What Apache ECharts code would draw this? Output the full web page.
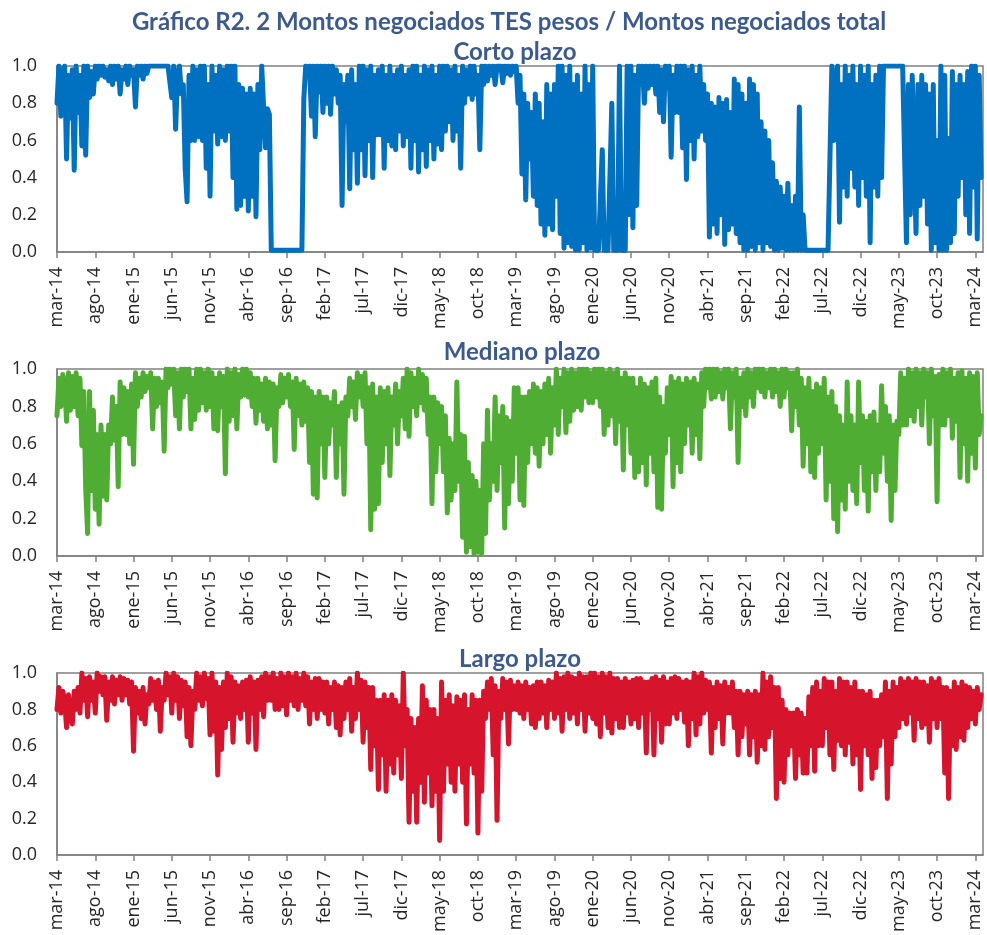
<!DOCTYPE html>
<html><head><meta charset="utf-8">
<script src="https://cdn.jsdelivr.net/npm/echarts@6/dist/echarts.min.js"></script>
<style>html,body{margin:0;padding:0;background:#fff}#c{width:987px;height:935px}</style>
</head><body><div id="c"></div><script>
const mainTitle = 'Gráfico R2. 2 Montos negociados TES pesos / Montos negociados total';
const panelTitles = ['Corto plazo', 'Mediano plazo', 'Largo plazo'];
const tickLabels = ['mar-14','ago-14','ene-15','jun-15','nov-15','abr-16','sep-16','feb-17','jul-17','dic-17','may-18','oct-18','mar-19','ago-19','ene-20','jun-20','nov-20','abr-21','sep-21','feb-22','jul-22','dic-22','may-23','oct-23','mar-24'];
// values in percent, 4 readings per month starting mar-14
const corto = [
80,100,73,97, 100,50,95,72, 98,44,100,75, 95,57,100,52, 100,83,97,85,
100,93,100,95, 100,94,98,92, 100,90,100,93, 100,85,98,93, 100,90,100,95,
98,78,100,95, 100,93,100,96, 100,100,100,100, 100,100,100,100, 100,100,100,100,
83,100,66,95, 100,85,90,45, 27,95,60,100, 60,98,62,100, 60,100,45,90,
30,100,65,95, 58,100,62,98, 60,100,65,100, 40,100,23,90, 25,88,30,85,
22,88,30,85, 19,90,55,100, 100,56,77,74, 1,1,1,1, 1,1,1,1,
1,1,1,1, 1,1,1,1, 1,82,100,95, 100,73,100,62, 100,86,100,75,
100,80,100,74, 100,85,98,80, 95,25,90,70, 95,34,98,55, 90,37,100,55,
100,41,98,60, 100,40,95,63, 98,63,100,45, 95,60,100,57, 95,55,98,65,
100,57,95,62, 98,45,100,60, 100,43,95,55, 100,46,98,60, 100,50,95,58,
100,55,100,65, 100,70,98,60, 100,65,95,45, 100,80,98,85, 100,82,100,85,
95,55,100,90, 100,92,100,95, 100,90,100,100, 100,91,100,96, 100,95,100,97,
100,80,95,42, 85,28,80,50, 75,30,85,25, 80,15,70,9, 90,15,85,12,
90,30,100,10, 100,2,95,5, 100,3,90,1, 95,1,85,5, 100,1,90,2,
100,1,1,1, 1,55,1,1, 1,1,80,1, 1,1,100,1, 1,1,100,20,
100,13,95,25, 100,90,100,80, 100,88,100,90, 100,85,100,75, 98,70,100,88,
100,51,95,75, 100,75,100,56, 100,39,98,60, 100,50,95,62, 100,65,90,60,
85,8,80,15, 78,10,83,20, 80,4,82,12, 75,15,93,10, 90,5,85,1,
80,1,93,3, 90,1,85,5, 70,1,65,5, 60,3,48,1, 38,1,35,2,
30,1,37,1, 25,1,30,1, 78,1,20,1, 1,1,1,1, 1,1,1,1,
1,1,1,1, 1,100,60,95, 100,16,90,35, 100,30,95,45, 100,35,90,25,
100,40,95,30, 100,5,90,35, 95,30,100,40, 100,100,100,100, 100,100,100,100,
100,100,100,100, 5,90,20,95, 95,10,90,25, 95,30,90,15, 85,1,90,5,
60,1,100,1, 95,1,61,5, 97,10,90,30, 95,40,90,20, 97,10,100,35,
100,7,95,40
];
const mediano = [
75,95,80,97, 92,72,98,78, 96,80,98,75, 95,59,88,36, 12,88,35,78,
25,65,17,70, 32,65,30,70, 60,85,62,80, 37,93,65,90, 65,88,60,92,
49,98,80,95, 85,98,88,96, 90,98,68,95, 80,95,82,93, 56,100,90,100,
92,100,75,98, 68,100,85,100, 88,100,68,95, 73,100,78,100, 82,98,78,100,
80,98,68,95, 67,98,80,96, 44,100,72,98, 75,100,68,97, 85,100,86,100,
85,98,80,95, 71,95,78,92, 72,95,68,93, 70,92,51,90, 80,97,82,95,
85,97,80,93, 57,95,75,92, 70,93,72,90, 50,88,33,85, 31,88,60,85,
42,85,60,82, 70,88,42,80, 60,82,33,85, 75,95,80,93, 73,98,85,96,
80,98,60,90, 14,92,25,85, 28,90,50,88, 60,90,43,85, 70,92,60,88,
75,95,68,100, 64,98,80,95, 75,100,82,97, 78,95,65,85, 28,85,45,82,
60,80,45,75, 23,63,30,60, 35,93,40,65, 10,64,2,50, 5,43,1,40,
2,35,1,60, 12,78,30,60, 40,85,35,75, 50,80,15,74, 28,72,40,90,
55,90,30,85, 27,85,50,88, 60,92,55,90, 48,88,60,92, 65,95,55,90,
70,100,65,95, 80,100,66,98, 72,100,78,98, 80,100,78,100, 85,100,82,98,
82,100,85,100, 80,100,65,98, 70,100,75,98, 60,100,72,95, 46,98,70,95,
55,95,42,90, 45,95,50,92, 38,90,55,93, 45,95,26,85, 25,80,55,90,
65,96,37,93, 50,95,45,92, 60,95,70,93, 55,95,65,92, 52,98,80,100,
90,100,84,100, 85,100,88,98, 84,100,90,100, 68,98,85,100, 50,95,80,98,
75,100,85,98, 80,100,90,100, 88,100,85,98, 90,100,85,100, 88,98,80,100,
85,100,90,98, 67,98,80,100, 70,95,48,90, 60,95,45,88, 42,92,55,90,
60,95,30,85, 40,88,20,80, 13,75,30,70, 25,93,40,75, 35,70,28,93,
50,75,35,72, 24,75,45,77, 35,70,45,91, 55,80,40,75, 19,70,35,72,
65,98,70,95, 70,100,75,98, 72,100,80,98, 70,100,85,98, 60,100,75,96,
29,97,70,100, 70,98,75,100, 63,95,72,98, 42,99,60,95, 40,98,55,96,
47,98,65,75
];
const largo = [
80,92,78,90, 85,70,88,75, 72,90,80,92, 78,100,85,97, 76,98,85,95,
78,100,90,98, 88,98,74,95, 85,98,83,96, 88,98,85,97, 88,96,83,95,
57,92,78,90, 75,92,72,88, 83,97,85,95, 80,96,68,92, 85,100,88,98,
78,100,85,98, 75,96,82,95, 65,92,60,90, 80,100,85,98, 82,100,86,97,
66,100,68,95, 44,92,58,95, 70,100,75,98, 62,95,78,93, 75,95,80,96,
62,98,78,95, 58,96,80,98, 76,100,85,98, 85,100,80,97, 80,100,82,98,
77,100,85,98, 82,100,80,97, 85,100,82,98, 72,95,80,97, 75,97,80,95,
78,95,72,92, 80,95,70,93, 66,92,75,95, 80,97,68,92, 75,100,80,96,
62,95,70,92, 47,92,60,85, 36,85,55,88, 35,85,50,88, 45,85,55,82,
42,100,60,80, 18,75,35,70, 18,75,40,93, 29,85,45,80, 27,80,35,75,
8,95,35,85, 50,88,40,82, 35,87,50,85, 40,88,17,80, 50,88,45,85,
12,85,35,90, 75,95,80,97, 55,93,19,90, 75,97,80,95, 61,96,80,93,
80,95,78,93, 75,95,80,92, 72,93,70,95, 75,95,78,93, 70,96,80,95,
75,100,78,97, 68,98,80,100, 75,98,78,97, 72,100,80,98, 68,98,78,100,
75,100,72,98, 65,100,78,98, 70,100,67,97, 75,97,70,95, 70,97,78,95,
72,96,75,97, 70,97,78,95, 56,95,80,97, 55,98,75,96, 62,98,72,95,
72,97,78,98, 75,97,80,95, 73,96,60,95, 75,100,66,98, 72,100,78,96,
80,95,56,92, 70,95,75,93, 61,95,78,92, 78,95,70,90, 55,90,65,88,
72,90,55,88, 65,90,51,88, 60,100,58,95, 65,98,70,92, 31,92,42,85,
40,80,55,78, 60,78,42,80, 55,78,45,75, 45,87,60,92, 46,95,60,90,
60,97,70,95, 55,95,47,90, 63,97,60,95, 55,95,62,92, 50,95,55,90,
36,90,60,88, 55,90,42,85, 48,85,60,88, 65,95,31,90, 50,95,65,92,
70,97,75,95, 72,97,78,95, 63,97,75,95, 70,95,72,93, 62,97,75,95,
70,97,75,92, 45,92,31,90, 60,95,58,92, 65,95,63,93, 70,92,75,90,
72,92,80,88
];
const seriesList = [corto, mediano, largo];
const colors = ['#0070c0', '#50ad33', '#d6142b'];
const PER_MONTH = 4;
const tickVals = tickLabels.map((_, i) => i * 5);
const tops = [66, 369, 673];
const heights = [186, 187, 186];
const titleTops = [35, 335, 642];
const titleLefts = [510, 517, 515];
const titleColor = '#3d5a8c';
const axisColor = '#808080';
const labelColor = '#262626';
const fontFam = '"Open Sans", "Noto Sans", sans-serif';
const titleFont = 'Lato, sans-serif';

const chart = echarts.init(document.getElementById('c'), null, {renderer: 'canvas'});
const option = {
  animation: false,
  backgroundColor: '#fff',
  title: [{
    text: mainTitle, left: 504, top: 5, textAlign: 'center',
    textStyle: {fontSize: 24, fontWeight: 'bold', color: titleColor, fontFamily: titleFont}
  }].concat(panelTitles.map((t, i) => ({
    text: t, left: titleLefts[i], top: titleTops[i], textAlign: 'center',
    textStyle: {fontSize: 24, fontWeight: 'bold', color: titleColor, fontFamily: titleFont}
  }))),
  grid: tops.map((t, i) => ({left: 57, width: 926, top: t, height: heights[i], show: true,
    borderColor: axisColor, borderWidth: 1.5, backgroundColor: 'transparent', containLabel: false})),
  xAxis: tops.map((t, i) => ({
    gridIndex: i, type: 'value', min: 0, max: 121, interval: 5,
    axisLine: {show: true, onZero: false, lineStyle: {color: axisColor, width: 1.5}},
    axisTick: {show: true, length: 6, customValues: tickVals, lineStyle: {color: axisColor, width: 1.5}},
    axisLabel: {customValues: tickVals, rotate: 90, margin: 15, fontSize: 18, color: labelColor, fontFamily: fontFam,
      formatter: v => tickLabels[Math.round(v / 5)] || ''},
    splitLine: {show: false}
  })),
  yAxis: tops.map((t, i) => ({
    gridIndex: i, type: 'value', min: 0, max: 1, interval: 0.2,
    axisLine: {show: true, lineStyle: {color: axisColor, width: 1.5}},
    axisTick: {show: false},
    axisLabel: {margin: 20, fontSize: 18, color: labelColor, fontFamily: fontFam, formatter: v => v.toFixed(1)},
    splitLine: {show: false}
  })),
  series: seriesList.map((arr, i) => ({
    type: 'line', xAxisIndex: i, yAxisIndex: i, symbol: 'none', smooth: false,
    lineStyle: {color: colors[i], width: 5, join: 'round', cap: 'round'},
    data: arr.map((v, k) => [k / PER_MONTH, v / 100])
  }))
};
chart.setOption(option);
</script></body></html>
